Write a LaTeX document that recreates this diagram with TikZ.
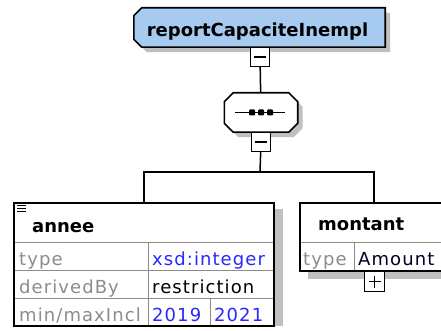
\documentclass[tikz,border=0pt]{standalone}
\usepackage{fontspec}
\setmainfont{DejaVu Sans}[LetterSpace=6,BoldFeatures={LetterSpace=0}]
\usetikzlibrary{shadows}
\definecolor{elemblue}{RGB}{166,202,240}
\definecolor{labelgray}{RGB}{140,140,140}
\definecolor{valblue}{RGB}{40,40,255}
\definecolor{shadowgray}{RGB}{192,192,192}
\tikzset{plainbox/.style={draw=black, line width=1.6pt, fill=white, inner sep=0pt},
elbox/.style={plainbox,
    drop shadow={shadow xshift=#1, shadow yshift=-#1, fill=shadowgray, opacity=1}},
%default shadow offset will be 6pt.
elbox/.default={6pt},
chamfer/.style={draw=black, line width=1.6pt, fill=#1,
    preaction={fill=shadowgray, transform canvas={shift={(5pt,-5pt)}}}},
ctrl/.style={draw=black, line width=1.4pt, fill=white, minimum size=19pt, inner sep=0pt},
rowline/.style={draw=black!45, line width=0.9pt},
lbl/.style={anchor=base west, inner sep=0pt, text=labelgray},
val/.style={anchor=base west, inner sep=0pt, text=valblue},
ttl/.style={anchor=base west, inner sep=0pt, font=\fontsize{18}{20}\selectfont\bfseries}}

\begin{document}
\begin{tikzpicture}[x=1pt,y=-1pt,font=\fontsize{18}{20}\selectfont]
    \useasboundingbox (0,0) rectangle (441,331);

    \coordinate (split) at (260,172);

    % top element, sequence compositor and the two children
    \node[minimum width=251pt, minimum height=39pt, inner sep=0pt] (report) at (259.5,27.5) {};
    \path[chamfer=elemblue] ([xshift=8pt]report.north west) -- (report.north east) -- (report.south east)
        -- ([xshift=8pt]report.south west) -- ([yshift=8pt]report.south west)
        -- ([yshift=-8pt]report.north west) -- cycle;
    \node[font=\fontsize{18}{20}\selectfont\bfseries, anchor=base, inner sep=0pt] (reporttxt) at (257.5,37) {reportCapaciteInempl};
    \node[ctrl] (m1) at (260,57) {};

    \node[minimum width=73pt, minimum height=39pt, inner sep=0pt] (seq) at (261,112.5) {};
    \path[chamfer=white] ([xshift=9pt]seq.north west) -- ([xshift=-9pt]seq.north east)
        -- ([yshift=-9pt]seq.north east) -- ([yshift=9pt]seq.south east)
        -- ([xshift=-9pt]seq.south east) -- ([xshift=9pt]seq.south west)
        -- ([yshift=9pt]seq.south west) -- ([yshift=-9pt]seq.north west) -- cycle;
    \node[ctrl] (m2) at (261,142) {};

    \draw[line width=1.5pt] (m1) -- (seq);
    \draw[line width=1.5pt] (m2) -- (split);

    \coordinate (anneeshadow) at (283,209);
    \fill[shadowgray] (anneeshadow) rectangle (272,326);
    \node[plainbox, minimum width=260pt, minimum height=123pt] (annee) at (144,264.5) {};
    \node[elbox=8pt, minimum width=148pt, minimum height=68pt] (montant) at (374,237) {};
    \node[ctrl, minimum size=20pt] (p1) at (374.5,281.5) {};

    \draw[line width=1.5pt] (annee.north) |- (split) -| (montant.north);

    % minus / plus signs and the sequence symbol
    \foreach \i in {m1,m2,p1}
    \draw[line width=1.3pt] ([xshift=-6pt]\i.center) -- ([xshift=6pt]\i.center);
    \draw[line width=1.3pt] ([yshift=-6pt]p1.center) -- ([yshift=6pt]p1.center);

    \draw[line width=1.3pt] ([xshift=-26pt]seq.center) -- ([xshift=24pt]seq.center);
    \foreach \d in {-9,0,9}
    \fill[rounded corners=1pt] ([xshift=\d pt]seq.center) +(-3,-3) rectangle +(3,3);

    % annee table
    \foreach \y in {242,270,298}
    \draw[rowline] (14.8,\y) -- (273.2,\y);
    \draw[rowline] (148,242) -- (148,325.2);
    \draw[rowline] (210,298) -- (210,325.2);
    \foreach \y in {205.5,208.5,211.5}
    \draw[line width=1.1pt] (17,\y) -- (26,\y);

    \node[ttl] (t1) at (32,232) {annee};
    \node[lbl] (l1) at (19,265) {type};
    \node[lbl] (l2) at (19,293) {derivedBy};
    \node[lbl] (l3) at (19,321) {min/maxIncl};
    \node[val] (v1) at (152,265) {xsd:integer};
    \node[val, text=black] (v2) at (152,293) {restriction};
    \node[val] (v3) at (152,321) {2019};
    \node[val] (v4) at (214,321) {2021};

    % montant table
    \draw[rowline] (300.8,242) -- (441,242);
    \draw[rowline] (354,242) -- (354,270.2);
    \node[ttl] (t2) at (318,230) {montant};
    \node[lbl] (l4) at (303,265) {type};
    \node[val, text=black!85!blue] (v5) at (358,265) {Amount};

  \end{tikzpicture}
\end{document}
